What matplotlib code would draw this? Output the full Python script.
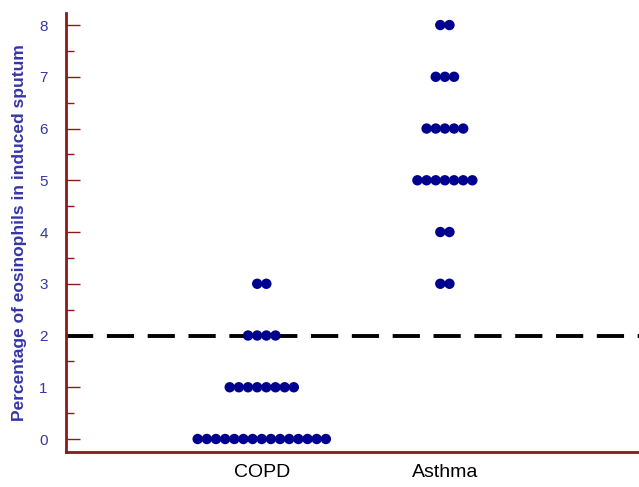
import matplotlib
matplotlib.use('Agg')
import matplotlib.pyplot as plt
import numpy as np

plt.rcParams['font.family'] = ['Liberation Sans', 'DejaVu Sans']

groups = ['COPD', 'Asthma']
group_pos = [1, 2]
# eosinophil % values and number of patients at each value
copd_vals = [0, 1, 2, 3]
copd_counts = [15, 8, 4, 2]
asthma_vals = [3, 4, 5, 6, 7, 8]
asthma_counts = [2, 2, 7, 5, 3, 2]
cutoff = 2

dot_col = '#00008f'
axis_col = '#8b1a1a'
tick_col = '#3535a8'

fig = plt.figure(figsize=(6.39, 4.87), dpi=100)
ax = fig.add_axes([0.103, 0.072, 0.897, 0.901])

spacing = 0.05
for pos, vals, counts in [(group_pos[0], copd_vals, copd_counts),
                          (group_pos[1], asthma_vals, asthma_counts)]:
    for v, n in zip(vals, counts):
        xs = pos + (np.arange(n) - (n - 1) / 2.) * spacing
        ax.scatter(xs, [v] * n, s=56, color=dot_col, edgecolors='none', zorder=3)

ax.axhline(cutoff, color='k', lw=2.8, dashes=(7, 3.5), zorder=2)

ax.set_xlim(-0.07, 3.06)
ax.set_ylim(-0.25, 8.23)
ax.set_xticks(group_pos)
ax.set_xticklabels(groups, fontsize=14)
ax.tick_params(axis='x', length=0, pad=9)
ax.set_yticks(range(0, 9))
ax.set_yticks(np.arange(0.5, 8, 1), minor=True)
ax.tick_params(axis='y', which='major', direction='in', length=10, width=1,
               color=axis_col, labelcolor=tick_col, labelsize=11, pad=13)
ax.tick_params(axis='y', which='minor', direction='in', length=6, width=1,
               color=axis_col)
ax.set_ylabel('Percentage of eosinophils in induced sputum', color=tick_col,
              fontsize=12.5, fontweight='bold', labelpad=9)

for s in ['top', 'right']:
    ax.spines[s].set_visible(False)
for s in ['left', 'bottom']:
    ax.spines[s].set_color(axis_col)
    ax.spines[s].set_linewidth(2)

plt.savefig('out.png', dpi=100)
